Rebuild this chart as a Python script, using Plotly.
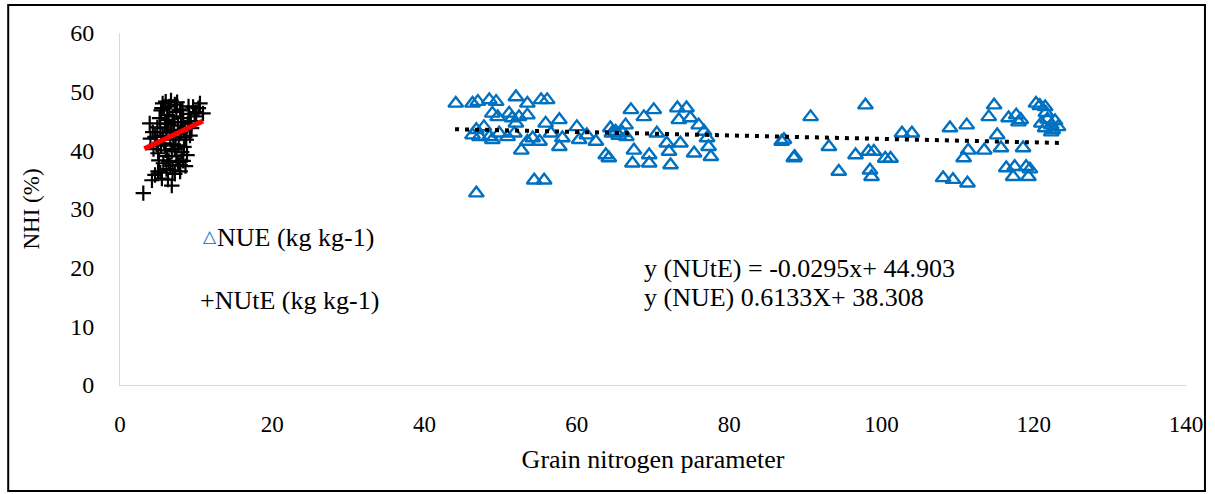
import plotly.graph_objects as go

# NUE (blue open triangles)
nue_x = [44.1, 46.3, 47.0, 48.5, 49.4, 52.0, 53.5, 55.3, 56.1, 48.9, 49.6, 51.1, 51.5, 52.4, 53.5, 52.0,
         46.8, 46.3, 47.2, 48.9, 49.8, 50.9, 51.8, 52.7, 53.5, 54.2, 55.1, 55.9, 56.6, 57.7, 57.7, 58.1,
         60.0, 60.3, 61.3, 62.5, 63.8, 64.4, 65.1, 54.4, 55.7, 46.8, 47.8, 48.5, 65.5, 66.0, 66.5,
         67.1, 70.1, 68.8, 66.4, 64.6, 67.5, 67.3, 69.5, 69.5, 71.8, 72.1, 72.3, 73.2, 74.4, 73.4, 74.9,
         75.4, 76.0, 76.7, 77.1, 77.3, 77.6, 70.5, 73.6, 86.9, 88.5, 64.2,
         90.7, 97.9, 87.2, 88.6, 93.1, 94.4, 96.6, 98.3, 99.0, 98.5, 98.7, 100.5, 101.2, 102.7, 104.0,
         108.1, 109.4, 109.0, 110.8, 111.2, 111.3, 111.4, 113.5, 114.1, 114.8, 115.2, 115.7, 116.4, 116.7,
         117.3, 117.5, 117.7, 118.0, 118.3, 118.6, 119.0, 119.3, 119.5, 120.3, 120.8, 121.5, 121.6, 121.0,
         121.8, 122.3, 122.5, 123.2, 122.3, 121.5, 122.8]
nue_y = [48.0, 48.0, 48.3, 48.6, 48.3, 49.1, 48.0, 48.6, 48.6, 46.3, 45.7, 46.3, 45.5, 45.7, 46.0, 44.6,
         43.5, 42.6, 42.3, 41.8, 42.9, 42.3, 42.9, 40.0, 41.5, 42.1, 41.5, 44.6, 42.9, 45.2, 40.6, 42.1,
         44.0, 41.8, 42.6, 41.5, 39.2, 43.8, 43.2, 34.9, 34.9, 32.7, 44.0, 42.3, 42.5, 43.0, 42.3,
         46.9, 46.9, 45.7, 44.3, 42.9, 40.0, 37.8, 39.2, 37.8, 41.2, 39.8, 37.5, 47.2, 47.2, 45.2, 45.5,
         39.5, 44.3, 43.2, 42.1, 40.6, 38.9, 42.9, 41.2, 41.5, 38.7, 38.7,
         45.7, 47.7, 41.8, 38.9, 40.6, 36.4, 39.2, 39.8, 39.8, 36.6, 35.5, 38.6, 38.6, 42.9, 42.9,
         35.3, 35.0, 43.8, 38.7, 44.3, 34.4, 40.0, 40.0, 45.7, 47.7, 42.6, 40.4, 37.0, 45.5,
         35.5, 37.2, 46.0, 44.8, 45.2, 40.4, 37.2, 35.5, 36.8, 48.0, 47.6, 47.4, 46.4, 44.6,
         45.3, 44.3, 43.5, 44.0, 43.1, 43.8, 45.0]

# NUtE (black crosses)
nute_x = [3.06, 4.2, 4.6, 5.0, 5.5, 6.3, 6.8, 7.2, 7.9, 7.9, 8.3, 3.9, 4.3, 4.6, 4.8, 5.0, 5.2, 5.4, 5.6,
          5.8, 6.0, 6.2, 6.4, 6.5, 6.7, 6.9, 7.0, 7.2, 7.4, 7.6, 7.8, 8.0, 8.2, 8.5, 8.7, 8.9, 9.1, 9.3,
          9.6, 10.0, 10.5, 10.9, 10.3, 9.8, 5.3, 5.6, 5.8, 6.0, 6.2, 6.4, 6.6, 6.8, 7.0, 7.2, 7.4, 7.6,
          7.3, 6.1, 6.6, 5.4, 5.1, 5.7, 6.9, 7.7, 8.1, 8.4, 8.6, 8.8, 9.2, 9.4, 8.3, 5.9, 6.7, 7.1, 7.9,
          4.4, 4.9, 5.5, 6.3, 8.0, 7.5, 9.0, 6.1, 5.3, 8.5, 4.0]
nute_y = [32.7, 34.9, 35.8, 36.4, 35.2, 35.0, 34.0, 36.0, 36.4, 37.5, 38.2, 44.6, 43.1, 42.3, 41.0, 39.5,
          45.5, 46.8, 48.0, 47.2, 48.3, 46.0, 44.5, 47.5, 48.5, 45.8, 43.5, 47.8, 46.5, 44.2, 42.8, 45.5,
          47.0, 43.5, 41.8, 44.5, 46.2, 45.0, 47.4, 46.5, 48.0, 46.3, 47.2, 45.8, 43.8, 42.5, 41.2, 40.0,
          39.0, 38.2, 37.4, 39.8, 41.0, 40.2, 39.0, 38.0, 42.2, 43.0, 41.8, 40.8, 38.3, 37.8, 36.6, 40.8,
          39.7, 40.6, 37.3, 39.2, 42.5, 43.8, 44.8, 44.6, 43.2, 44.8, 46.8, 40.2, 43.9, 47.2, 45.2, 43.0,
          48.2, 47.5, 36.8, 36.2, 42.2, 42.0]

# Trend lines (from the printed equations)
nute_slope, nute_int = -0.0295, 44.903   # dotted line over NUE range
nue_slope, nue_int = 0.6133, 38.308      # red line over NUtE range
dot_range = [44.0, 124.0]
red_range = [3.2, 10.9]

x_ticks = [0, 20, 40, 60, 80, 100, 120, 140]
y_ticks = [0, 10, 20, 30, 40, 50, 60]

FONT = "serif"
BLUE = "#0070C0"


def f(size, color="#000000"):
    return dict(family=FONT, size=size, color=color)


fig = go.Figure()
fig.add_trace(go.Scatter(x=nue_x, y=nue_y, mode="markers",
                         marker=dict(symbol="triangle-up-open", size=13, color=BLUE,
                                     line=dict(width=2.4, color=BLUE)),
                         showlegend=False))
fig.add_trace(go.Scatter(x=nute_x, y=nute_y, mode="markers",
                         marker=dict(symbol="cross-thin", size=11, color="black",
                                     line=dict(width=2.2, color="black")),
                         showlegend=False))
fig.add_trace(go.Scatter(x=dot_range, y=[nute_slope * v + nute_int for v in dot_range], mode="lines",
                         line=dict(color="black", width=4, dash="4px,6px"), showlegend=False))
fig.add_trace(go.Scatter(x=red_range, y=[nue_slope * v + nue_int for v in red_range], mode="lines",
                         line=dict(color="#FF0000", width=5), showlegend=False))

L, R, T, B = 120, 27, 33, 109
W, H = 1215, 494
pw, ph = W - L - R, H - T - B


def px(xp):
    return (xp - L) / pw


def py(yp):
    return (H - B - yp) / ph


fig.update_layout(
    width=W, height=H,
    margin=dict(l=L, r=R, t=T, b=B),
    paper_bgcolor="white", plot_bgcolor="white",
    font=f(23),
    xaxis=dict(range=[0, 140], tickvals=x_ticks, showgrid=False, zeroline=False,
               showline=True, linecolor="#D9D9D9", linewidth=1, tickfont=f(23),
               ticks="outside", ticklen=18, tickcolor="rgba(0,0,0,0)",
               title=dict(text="Grain nitrogen parameter", font=f(26), standoff=14)),
    yaxis=dict(range=[0, 60], tickvals=y_ticks, showgrid=False, zeroline=False,
               showline=True, linecolor="#D9D9D9", linewidth=1, tickfont=f(24),
               ticks="outside", ticklen=20, tickcolor="rgba(0,0,0,0)",
               title=dict(text="NHI (%)", font=f(23), standoff=24)),
    shapes=[dict(type="rect", xref="paper", yref="paper",
                 x0=px(8), x1=px(1207), y0=py(491), y1=py(5),
                 line=dict(color="black", width=2), fillcolor="rgba(0,0,0,0)", layer="below")],
    annotations=[
        dict(xref="paper", yref="paper", x=px(201), y=py(236), xanchor="left", yanchor="middle",
             showarrow=False, font=f(17, BLUE), text="△"),
        dict(xref="paper", yref="paper", x=px(215), y=py(237), xanchor="left", yanchor="middle",
             showarrow=False, font=f(26), text="NUE (kg kg-1)"),
        dict(xref="paper", yref="paper", x=px(198), y=py(300), xanchor="left", yanchor="middle",
             showarrow=False, font=f(26), text="+NUtE (kg kg-1)"),
        dict(xref="paper", yref="paper", x=px(643), y=py(268), xanchor="left", yanchor="middle",
             showarrow=False, font=f(26), text="y (NUtE) = -0.0295x+ 44.903"),
        dict(xref="paper", yref="paper", x=px(643), y=py(297), xanchor="left", yanchor="middle",
             showarrow=False, font=f(26), text="y (NUE) 0.6133X+ 38.308"),
    ],
)

fig.write_html("out.html")
